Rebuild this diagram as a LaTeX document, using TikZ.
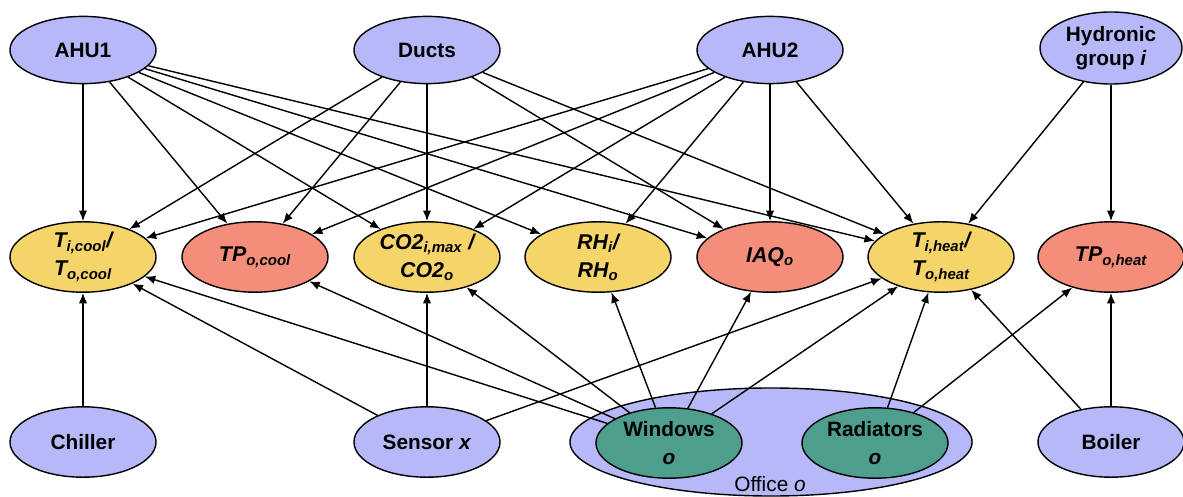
\documentclass[tikz,border=0pt]{standalone}
\usepackage{fontspec}
\setmainfont{Liberation Sans}
\usetikzlibrary{arrows.meta,shapes.geometric}
\definecolor{lav}{RGB}{182,184,248}
\definecolor{yel}{RGB}{245,212,106}
\definecolor{sal}{RGB}{244,142,122}
\definecolor{tealg}{RGB}{78,158,142}
\begin{document}
\begin{tikzpicture}[x=0.025cm,y=-0.025cm,
  base/.style={ellipse,draw=black,line width=1pt,inner sep=0pt,minimum width=3.65cm,minimum height=1.76cm,align=center,font=\fontsize{14.8}{20}\selectfont\bfseries},
  comp/.style={base,fill=lav},
  var/.style={base,fill=yel,font=\fontsize{15.2}{20}\selectfont\bfseries\itshape},
  perf/.style={base,fill=sal,font=\fontsize{15.2}{20}\selectfont\bfseries\itshape},
  part/.style={base,fill=tealg},
  link/.style={-{Latex[length=7.5pt,width=6pt]},line width=1pt}]
\useasboundingbox (0,0) rectangle (1183,497);
% top row
\node[comp,minimum height=1.68cm] (ahu1) at (83,50) {AHU1};
\node[comp,minimum height=1.68cm] (ducts) at (427,50) {Ducts};
\node[comp,minimum height=1.68cm] (ahu2) at (770,50) {AHU2};
\node[comp,minimum width=3.55cm,minimum height=1.8cm,font=\fontsize{14.8}{17}\selectfont\bfseries] (hyd) at (1111,48) {Hydronic\\group \textit{i}};
% middle row
\node[var] (tc) at (83,257) {T\textsubscript{i,cool}/\\T\textsubscript{o,cool}};
\node[perf] (tpc) at (255,257) {TP\textsubscript{o,cool}};
\node[var] (co2) at (427,257) {CO2\textsubscript{i,max} /\\CO2\textsubscript{o}};
\node[var] (rh) at (598,257) {RH\textsubscript{i}/\\RH\textsubscript{o}};
\node[perf] (iaq) at (770,257) {IAQ\textsubscript{o}};
\node[var] (th) at (941,257) {T\textsubscript{i,heat}/\\T\textsubscript{o,heat}};
\node[perf] (tph) at (1111,257) {TP\textsubscript{o,heat}};
% bottom row
\node[comp] (chiller) at (83,442) {Chiller};
\node[comp] (sensor) at (427,442) {Sensor \textit{x}};
\node[ellipse,draw=black,fill=lav,line width=1pt,inner sep=0pt,minimum width=10.05cm,minimum height=2.7cm] (office) at (771,442) {};
\node[font=\fontsize{14.8}{20}\selectfont] (officelbl) at (770,484) {Office \textit{o}};
\node[part] (win) at (669,443) {Windows\\\textit{o}};
\node[part] (rad) at (875,443) {Radiators\\\textit{o}};
\node[comp] (boiler) at (1111,442) {Boiler};
% connectors
\foreach \t in {tc,tpc,co2,rh,iaq,th} \draw[link] (ahu1) -- (\t);
\foreach \t in {tc,tpc,co2,iaq,th} \draw[link] (ducts) -- (\t);
\foreach \t in {tc,tpc,co2,rh,iaq,th} \draw[link] (ahu2) -- (\t);
\foreach \t in {th,tph} \draw[link] (hyd) -- (\t);
\draw[link] (chiller) -- (tc);
\foreach \t in {tc,co2,th} \draw[link] (sensor) -- (\t);
\foreach \t in {tc,tpc,co2,rh,iaq,th} \draw[link] (win) -- (\t);
\foreach \t in {th,tph} \draw[link] (rad) -- (\t);
\foreach \t in {th,tph} \draw[link] (boiler) -- (\t);
\end{tikzpicture}
\end{document}
